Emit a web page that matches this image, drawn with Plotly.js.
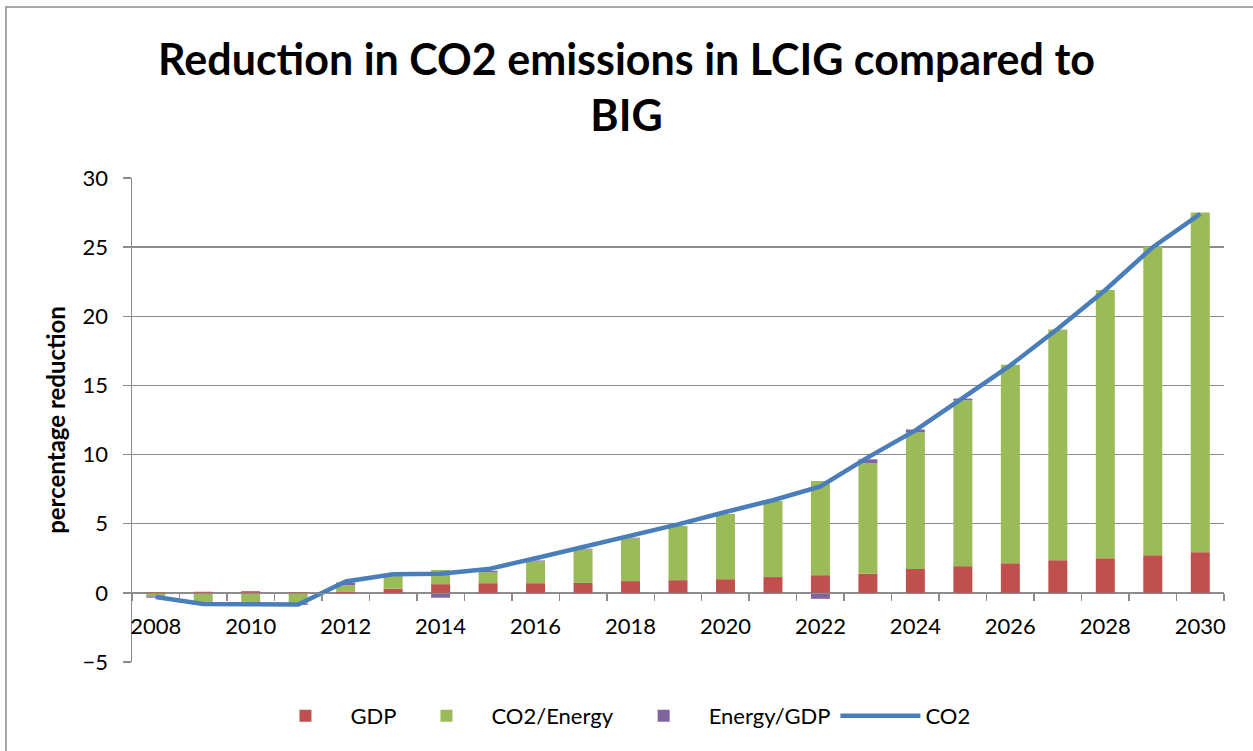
<!DOCTYPE html>
<html>
<head>
<meta charset="utf-8">
<script src="https://cdn.plot.ly/plotly-3.0.1.min.js"></script>
<style>html,body{margin:0;padding:0;background:#fff;}#chart{width:1253px;height:751px;}</style>
</head>
<body>
<div id="chart"></div>
<script>
const years = ['2008','2009','2010','2011','2012','2013','2014','2015','2016','2017','2018','2019','2020','2021','2022','2023','2024','2025','2026','2027','2028','2029','2030'];
const gdp = [0.05,0.08,0.12,0.05,0.1,0.3,0.63,0.7,0.7,0.72,0.85,0.92,0.99,1.14,1.28,1.38,1.73,1.93,2.14,2.36,2.5,2.72,2.94];
const co2Energy = [-0.25,-0.63,-0.65,-0.77,0.45,0.9,1.03,0.8,1.57,2.42,3.09,3.91,4.71,5.5,6.81,7.99,9.88,12.0,14.36,16.68,19.4,22.32,24.56];
const energyGdp = [-0.1,-0.15,-0.15,-0.1,0.2,0.1,-0.35,0.1,0.07,0.05,0.05,-0.08,-0.05,-0.03,-0.43,0.29,0.2,0.12,-0.05,-0.03,-0.03,-0.08,-0.08];
const co2 = [-0.3,-0.8,-0.82,-0.85,0.82,1.35,1.38,1.72,2.5,3.3,4.15,4.95,5.85,6.7,7.7,9.8,11.75,14.1,16.45,19.1,21.9,25.0,27.4];
const tickText = years.map((y,i) => i % 2 === 0 ? y : '');

const FONT = 'Lato, "Open Sans", sans-serif';
const GRAY = '#8c8c8c';

const traces = [
  {type:'bar', name:'GDP', x:years, y:gdp, marker:{color:'#C0504D'}, width:0.4},
  {type:'bar', name:'CO2/Energy', x:years, y:co2Energy, marker:{color:'#9BBB59'}, width:0.4},
  {type:'bar', name:'Energy/GDP', x:years, y:energyGdp, marker:{color:'#8064A2'}, width:0.4},
  {type:'scatter', mode:'lines', name:'CO2', x:years, y:co2, line:{color:'#4A7EBB', width:4.5}}
];

const layout = {
  width:1253, height:751,
  paper_bgcolor:'#ffffff', plot_bgcolor:'#ffffff',
  margin:{l:132, r:29, t:178, b:89},
  barmode:'relative',
  font:{family:FONT, color:'#000'},
  title:{text:'<b>Reduction in CO2 emissions in LCIG compared to<br>BIG</b>', font:{family:FONT, size:43, color:'#000'}, x:0.5, xref:'container', y:0.9, yref:'container', yanchor:'top'},
  xaxis:{type:'category', range:[-0.5,22.5], anchor:'free', position:5/35,
    tickmode:'array', tickvals:years, ticktext:tickText, tickson:'boundaries',
    ticks:'outside', ticklen:7, tickcolor:GRAY, tickwidth:1.5,
    showline:true, linecolor:GRAY, linewidth:1.5, showgrid:false,
    tickfont:{family:FONT, size:22, color:'#000'}, ticklabelstandoff:13, tickangle:0},
  yaxis:{range:[-5,30], dtick:5, tick0:0, showgrid:true, gridcolor:GRAY, gridwidth:1.5,
    zeroline:false, showline:true, linecolor:GRAY, linewidth:1.5,
    ticks:'outside', ticklen:8, tickcolor:GRAY, tickwidth:1.5,
    tickfont:{family:FONT, size:22, color:'#000'}, ticklabelstandoff:10,
    title:{text:'<b>percentage reduction</b>', font:{family:FONT, size:24, color:'#000'}, standoff:10}},
  legend:{orientation:'h', x:0.445, xanchor:'center', y:-0.1116, yanchor:'middle',
    font:{family:FONT, size:22, color:'#000'}, itemwidth:80, traceorder:'normal', bgcolor:'rgba(0,0,0,0)'},
  shapes:[{type:'rect', xref:'paper', yref:'paper', x0:-0.1154, x1:1.04, y0:-0.3, y1:1.3533, line:{color:GRAY, width:1.5}, fillcolor:'rgba(0,0,0,0)', layer:'below'}],
  showlegend:true
};

Plotly.newPlot('chart', traces, layout, {displayModeBar:false, staticPlot:true});
</script>
</body>
</html>
